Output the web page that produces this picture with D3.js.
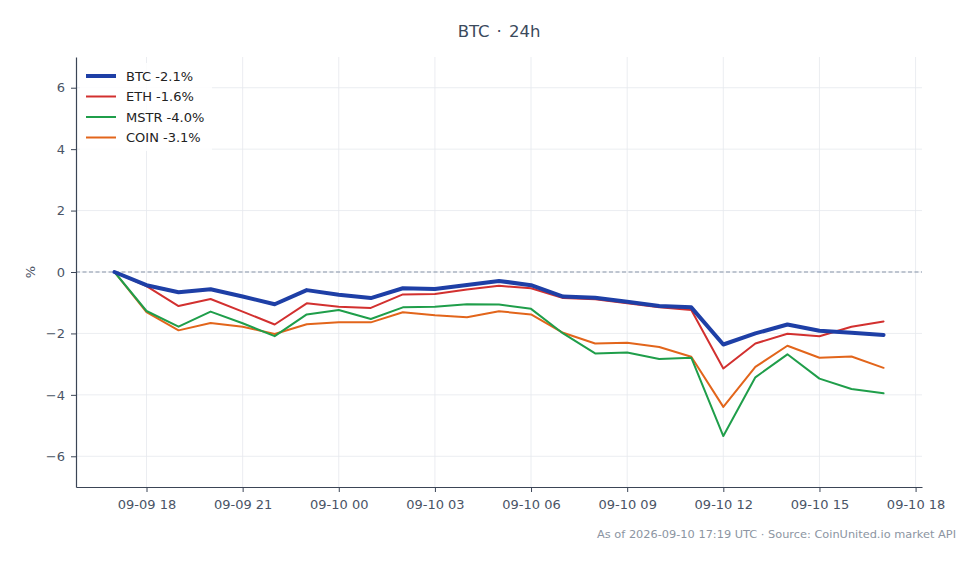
<!DOCTYPE html>
<html>
<head>
<meta charset="utf-8">
<script src="https://cdn.jsdelivr.net/npm/d3@7"></script>
<style>
  html, body { margin: 0; padding: 0; background: #fff; }
  svg { display: block; font-family: "DejaVu Sans", sans-serif; }
</style>
</head>
<body>
<svg id="chart" width="980" height="564"></svg>
<script>
// ---- data ----
const startTime = "2026-09-09T17:00:00Z";
const hours = 25; // hourly points 09-09 17:00 .. 09-10 17:00
const seriesNames = ["BTC", "ETH", "MSTR", "COIN"];
const btc  = [0, -0.43, -0.66, -0.56, -0.80, -1.05, -0.59, -0.74, -0.85, -0.53, -0.55, -0.42, -0.29, -0.43, -0.80, -0.84, -0.97, -1.11, -1.15, -2.36, -2.00, -1.71, -1.91, -1.98, -2.05];
const eth  = [0, -0.46, -1.11, -0.88, -1.29, -1.71, -1.02, -1.13, -1.17, -0.73, -0.72, -0.57, -0.45, -0.53, -0.85, -0.89, -1.02, -1.15, -1.24, -3.14, -2.33, -2.01, -2.09, -1.78, -1.61];
const mstr = [0, -1.27, -1.78, -1.29, -1.67, -2.09, -1.38, -1.24, -1.53, -1.15, -1.13, -1.05, -1.06, -1.20, -2.00, -2.65, -2.62, -2.83, -2.79, -5.34, -3.43, -2.68, -3.47, -3.81, -3.95];
const coin = [0, -1.31, -1.90, -1.66, -1.78, -2.02, -1.70, -1.64, -1.64, -1.31, -1.41, -1.47, -1.28, -1.38, -1.98, -2.33, -2.30, -2.44, -2.76, -4.39, -3.09, -2.40, -2.79, -2.75, -3.12];
const legendLabels = ["BTC -2.1%", "ETH -1.6%", "MSTR -4.0%", "COIN -3.1%"];
const yTicks = [-6, -4, -2, 0, 2, 4, 6];
const yDomain = [-7, 7];
const titleText = "BTC · 24h";
const footerText = "As of 2026-09-10 17:19 UTC · Source: CoinUnited.io market API";

// ---- styles ----
const colors = ["#1e3fa6", "#d2302f", "#1f9e4a", "#e2651b"];
const widths = [4, 2, 2, 2];

const svg = d3.select("#chart");
const W = 980, H = 564;
const m = { left: 76, right: 58, top: 57, bottom: 77 };

const t0 = new Date(startTime);
const times = d3.range(hours).map(i => new Date(t0.getTime() + i * 3600e3));
const span = times[times.length - 1] - times[0];
const pad = span * 0.05;

const x = d3.scaleUtc()
  .domain([new Date(times[0].getTime() - pad), new Date(times[times.length - 1].getTime() + pad)])
  .range([m.left, W - m.right]);
const y = d3.scaleLinear().domain(yDomain).range([H - m.bottom, m.top]);

const xTickVals = d3.utcHour.every(3).range(new Date("2026-09-09T18:00:00Z"), new Date("2026-09-10T18:00:01Z"));
const fmt = d3.utcFormat("%m-%d %H");

// grid
const grid = svg.append("g");
grid.selectAll("line.v").data(xTickVals).join("line")
  .attr("x1", d => x(d)).attr("x2", d => x(d))
  .attr("y1", m.top).attr("y2", H - m.bottom)
  .attr("stroke", "#e6e9ee").attr("stroke-width", 0.8);
grid.selectAll("line.h").data(yTicks).join("line")
  .attr("x1", m.left).attr("x2", W - m.right)
  .attr("y1", d => y(d)).attr("y2", d => y(d))
  .attr("stroke", "#e6e9ee").attr("stroke-width", 0.8);

// zero line
svg.append("line")
  .attr("x1", m.left).attr("x2", W - m.right)
  .attr("y1", y(0)).attr("y2", y(0))
  .attr("stroke", "#8794a8").attr("stroke-width", 1)
  .attr("stroke-dasharray", "4,2.5");

// series
const allSeries = [btc, eth, mstr, coin];
const line = d3.line().x((d, i) => x(times[i])).y(d => y(d));
// draw in reverse order so BTC is on top
[3, 2, 1, 0].forEach(k => {
  svg.append("path").datum(allSeries[k])
    .attr("d", line)
    .attr("fill", "none")
    .attr("stroke", colors[k])
    .attr("stroke-width", widths[k])
    .attr("stroke-linejoin", "round")
    .attr("stroke-linecap", "round");
});

// axes
const axisColor = "#3b4556";
const tickColor = "#4a5466";
const xAxis = svg.append("g")
  .attr("transform", `translate(0,${H - m.bottom})`)
  .call(d3.axisBottom(x).tickValues(xTickVals).tickFormat(fmt).tickSize(5).tickPadding(8).tickSizeOuter(0));
const yAxis = svg.append("g")
  .attr("transform", `translate(${m.left},0)`)
  .call(d3.axisLeft(y).tickValues(yTicks).tickFormat(d => d < 0 ? "\u2212" + Math.abs(d) : d).tickSize(5).tickPadding(6).tickSizeOuter(0));
[xAxis, yAxis].forEach(a => {
  a.select(".domain").attr("stroke", axisColor).attr("stroke-width", 1.2);
  a.selectAll(".tick line").attr("stroke", axisColor).attr("stroke-width", 1);
  a.selectAll(".tick text").attr("fill", tickColor).attr("font-size", 13).attr("font-family", "DejaVu Sans");
});

// y label
svg.append("text")
  .attr("transform", `translate(35,${y(0)}) rotate(-90)`)
  .attr("text-anchor", "middle")
  .attr("fill", tickColor)
  .attr("font-size", 13)
  .text("%");

// title
svg.append("text")
  .attr("x", (m.left + W - m.right) / 2).attr("y", 37)
  .attr("text-anchor", "middle")
  .attr("fill", "#3b4a5c")
  .attr("font-size", 16.5)
  .attr("word-spacing", 1.8)
  .text(titleText);

// legend
const lg = svg.append("g");
lg.append("rect").attr("x", 80).attr("y", 63).attr("width", 132).attr("height", 88)
  .attr("fill", "#fff").attr("fill-opacity", 0.85);
legendLabels.forEach((lab, k) => {
  const ly = 76 + k * 20.5;
  lg.append("line").attr("x1", 86).attr("x2", 116).attr("y1", ly).attr("y2", ly)
    .attr("stroke", colors[k]).attr("stroke-width", widths[k]);
  lg.append("text").attr("x", 126).attr("y", ly).attr("dy", "0.35em")
    .attr("fill", "#222").attr("font-size", 13).text(lab);
});

// footer
svg.append("text")
  .attr("x", 956).attr("y", 537.5)
  .attr("text-anchor", "end")
  .attr("fill", "#8c95a2")
  .attr("font-size", 11.35)
  .text(footerText);
</script>
</body>
</html>
